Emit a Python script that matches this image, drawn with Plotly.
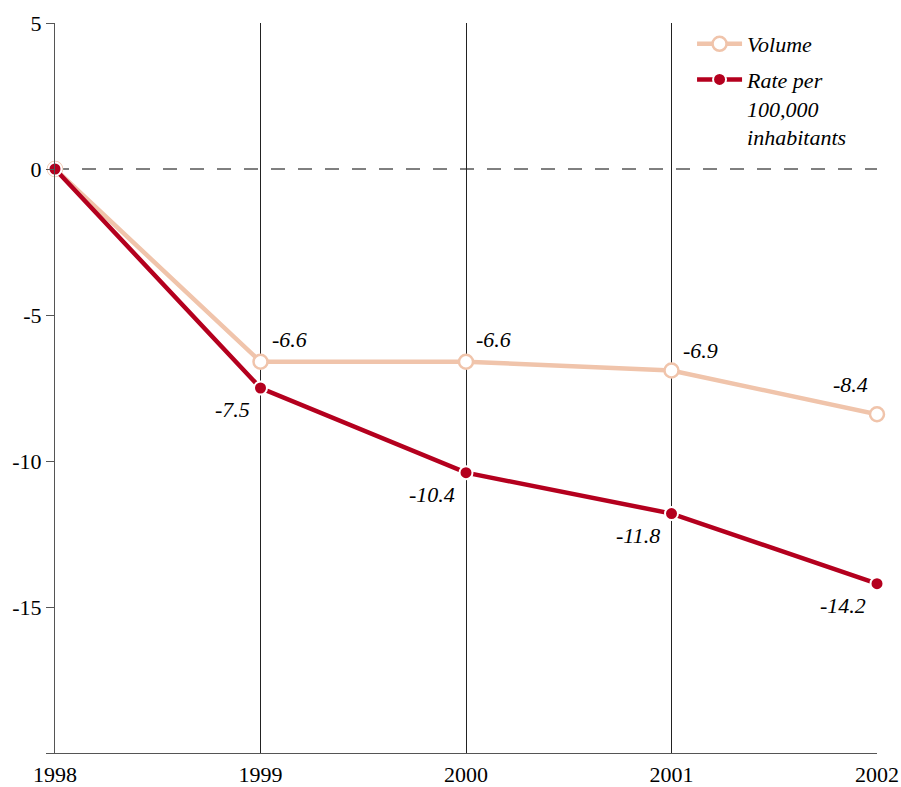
import plotly.graph_objects as go

years = [1998, 1999, 2000, 2001, 2002]
volume = [0, -6.6, -6.6, -6.9, -8.4]
rate = [0, -7.5, -10.4, -11.8, -14.2]
volume_labels = ["", "-6.6", "-6.6", "-6.9", "-8.4"]
rate_labels = ["", "-7.5", "-10.4", "-11.8", "-14.2"]
y_ticks = [-20, -15, -10, -5, 0, 5]
y_ticktext = ["", "-15", "-10", "-5", "0", "5"]
x_ticktext = ["1998", "1999", "2000", "2001", "2002"]

VOL_C = "#F0C4AB"
RATE_C = "#B4001E"
FONT = "Liberation Serif"
FS = 22

fig = go.Figure()
fig.add_trace(go.Scatter(
    x=years, y=volume, mode="lines+markers", name="Volume", legendgroup="vol",
    line=dict(color=VOL_C, width=4.5),
    marker=dict(size=14, color="white", line=dict(color=VOL_C, width=2.5)),
    cliponaxis=False,
))
fig.add_trace(go.Scatter(
    x=years, y=rate, mode="lines+markers", name="Rate per<br>100,000<br>inhabitants",
    legendgroup="rate",
    line=dict(color=RATE_C, width=4.5),
    marker=dict(size=13, color=RATE_C, line=dict(color="white", width=2)),
    cliponaxis=False,
))

vol_shift = [None, (29, 22), (27, 22), (29, 20), (-27, 30)]
rate_shift = [None, (-28, -21), (-34, -22), (-34, -22), (-34, -22)]
for i, (x, v, t) in enumerate(zip(years, volume, volume_labels)):
    if t:
        dx, dy = vol_shift[i]
        fig.add_annotation(x=x, y=v, text=t, showarrow=False, xshift=dx, yshift=dy,
                           font=dict(family=FONT, size=FS, color="black", style="italic"))
for i, (x, v, t) in enumerate(zip(years, rate, rate_labels)):
    if t:
        dx, dy = rate_shift[i]
        fig.add_annotation(x=x, y=v, text=t, showarrow=False, xshift=dx, yshift=dy,
                           font=dict(family=FONT, size=FS, color="black", style="italic"))

fig.add_shape(type="line", xref="paper", yref="y", x0=0, x1=1, y0=0, y1=0,
              line=dict(color="black", width=1, dash="14px,13px"), layer="below")

fig.update_layout(
    width=901, height=787,
    margin=dict(l=55, r=24, t=23, b=34, autoexpand=False),
    paper_bgcolor="white", plot_bgcolor="white",
    font=dict(family=FONT, size=FS, color="black"),
    showlegend=True,
    legend=dict(x=0.775, y=1.0, xanchor="left", yanchor="top", valign="top",
                bgcolor="rgba(0,0,0,0)", font=dict(family=FONT, size=FS, style="italic"),
                tracegroupgap=4, itemwidth=45),
    xaxis=dict(range=[1998, 2002], tickvals=years, ticktext=x_ticktext,
               showgrid=True, gridcolor="#222", gridwidth=1,
               showline=True, linecolor="#555", linewidth=1,
               ticks="outside", ticklen=2, tickcolor="rgba(0,0,0,0)",
               zeroline=False, automargin=False,
               tickfont=dict(family=FONT, size=FS)),
    yaxis=dict(range=[-20, 5], tickvals=y_ticks, ticktext=y_ticktext,
               showgrid=False, showline=True, linecolor="#555", linewidth=1,
               ticks="outside", ticklen=8, tickcolor="#555",
               zeroline=False, automargin=False,
               tickfont=dict(family=FONT, size=FS)),
)

fig.write_html(
    "out.html",
    config={"displayModeBar": False},
    post_script="document.body.style.margin='0';document.documentElement.style.overflow='hidden';document.body.style.overflow='hidden';",
)
